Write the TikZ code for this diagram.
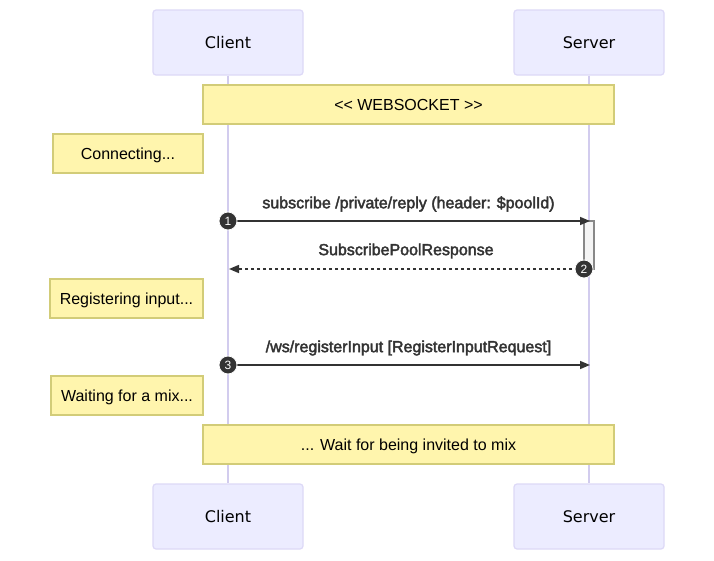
\documentclass[tikz,border=0pt]{standalone}
\usepackage{fontspec}
\setmainfont{Liberation Sans}
\newfontfamily\actorfont{DejaVu Sans}
\newfontfamily\msgfont[FakeBold=2.5]{Liberation Sans}
\usetikzlibrary{arrows.meta}
\definecolor{actorfill}{HTML}{ECECFF}
\definecolor{actorline}{HTML}{DDD9F7}
\definecolor{lifeline}{HTML}{D2CCEE}
\definecolor{notefill}{HTML}{FFF5AD}
\definecolor{noteline}{HTML}{D2CC78}
\definecolor{txt}{HTML}{333333}
\definecolor{actfill}{HTML}{F4F4F4}
\definecolor{actline}{HTML}{888888}
\tikzset{
  actor/.style={draw=actorline, fill=actorfill, line width=1.2pt, rounded corners=3pt,
    minimum width=150, minimum height=65, inner sep=0pt,
    font=\actorfont\fontsize{16}{19}\selectfont, text=black},
  life/.style={draw=lifeline, line width=1.2pt},
  notebox/.style={draw=noteline, fill=notefill, line width=1.2pt, inner sep=0pt,
    minimum height=39, text height=15pt, text depth=3pt,
    font=\fontsize{16}{19}\selectfont, text=black},
  msglabel/.style={font=\msgfont\fontsize{16}{19}\selectfont, text=txt, inner sep=0pt},
  msg/.style={draw=txt, line width=1.5pt, -{Triangle[length=10pt,width=8pt]}},
  reply/.style={msg, dash pattern=on 3pt off 3pt},
  seqnum/.style={circle, fill=txt, draw=white, line width=0.8pt, minimum size=18, inner sep=0pt,
    font=\fontsize{12}{14}\selectfont, text=white},
  actbox/.style={draw=actline, fill=actfill, line width=1.2pt, minimum width=10, minimum height=48, inner sep=0pt}
}
\begin{document}
\begin{tikzpicture}[x=1pt,y=-1pt]
\useasboundingbox[fill=white] (0,0) rectangle (714,560);
% actors
\node[actor] (ct) at (228,42.5) {Client};
\node[actor] (st) at (589,42.5) {Server};
\node[actor] (cb) at (228,516.5) {Client};
\node[actor] (sb) at (589,516.5) {Server};
% lifelines
\draw[life] (ct.south) -- (cb.north);
\draw[life] (st.south) -- (sb.north);
% notes
\node[notebox, minimum width=411] (n1) at (408.5,104.5) {<{}< WEBSOCKET >{}>};
\node[notebox, minimum width=150] (n2) at (128,153.5) {Connecting...};
\node[notebox, minimum width=153] (n3) at (126.5,298.5) {Registering input...};
\node[notebox, minimum width=152] (n4) at (127,395.5) {Waiting for a mix...};
\node[notebox, minimum width=411] (n5) at (408.5,444.5) {... Wait for being invited to mix};
% activation
\node[actbox] (act) at (589,245) {};
% message endpoints
\coordinate (m1a) at (228,221);
\coordinate (m1b) at (590,221);
\coordinate (m2a) at (584,269);
\coordinate (m2b) at (229,269);
\coordinate (m3a) at (228,365);
\coordinate (m3b) at (590,365);
% messages
\draw[msg] (m1a) -- (m1b);
\draw[reply] (m2a) -- (m2b);
\draw[msg] (m3a) -- (m3b);
% labels
\node[msglabel] (l1) at (408.5,204) {subscribe /private/reply (header: \$poolId)};
\node[msglabel] (l2) at (406,251) {SubscribePoolResponse};
\node[msglabel] (l3) at (408.5,348) {/ws/registerInput [RegisterInputRequest]};
% sequence numbers
\node[seqnum] (s1) at (m1a) {1};
\node[seqnum] (s2) at (m2a) {2};
\node[seqnum] (s3) at (m3a) {3};
\end{tikzpicture}
\end{document}
